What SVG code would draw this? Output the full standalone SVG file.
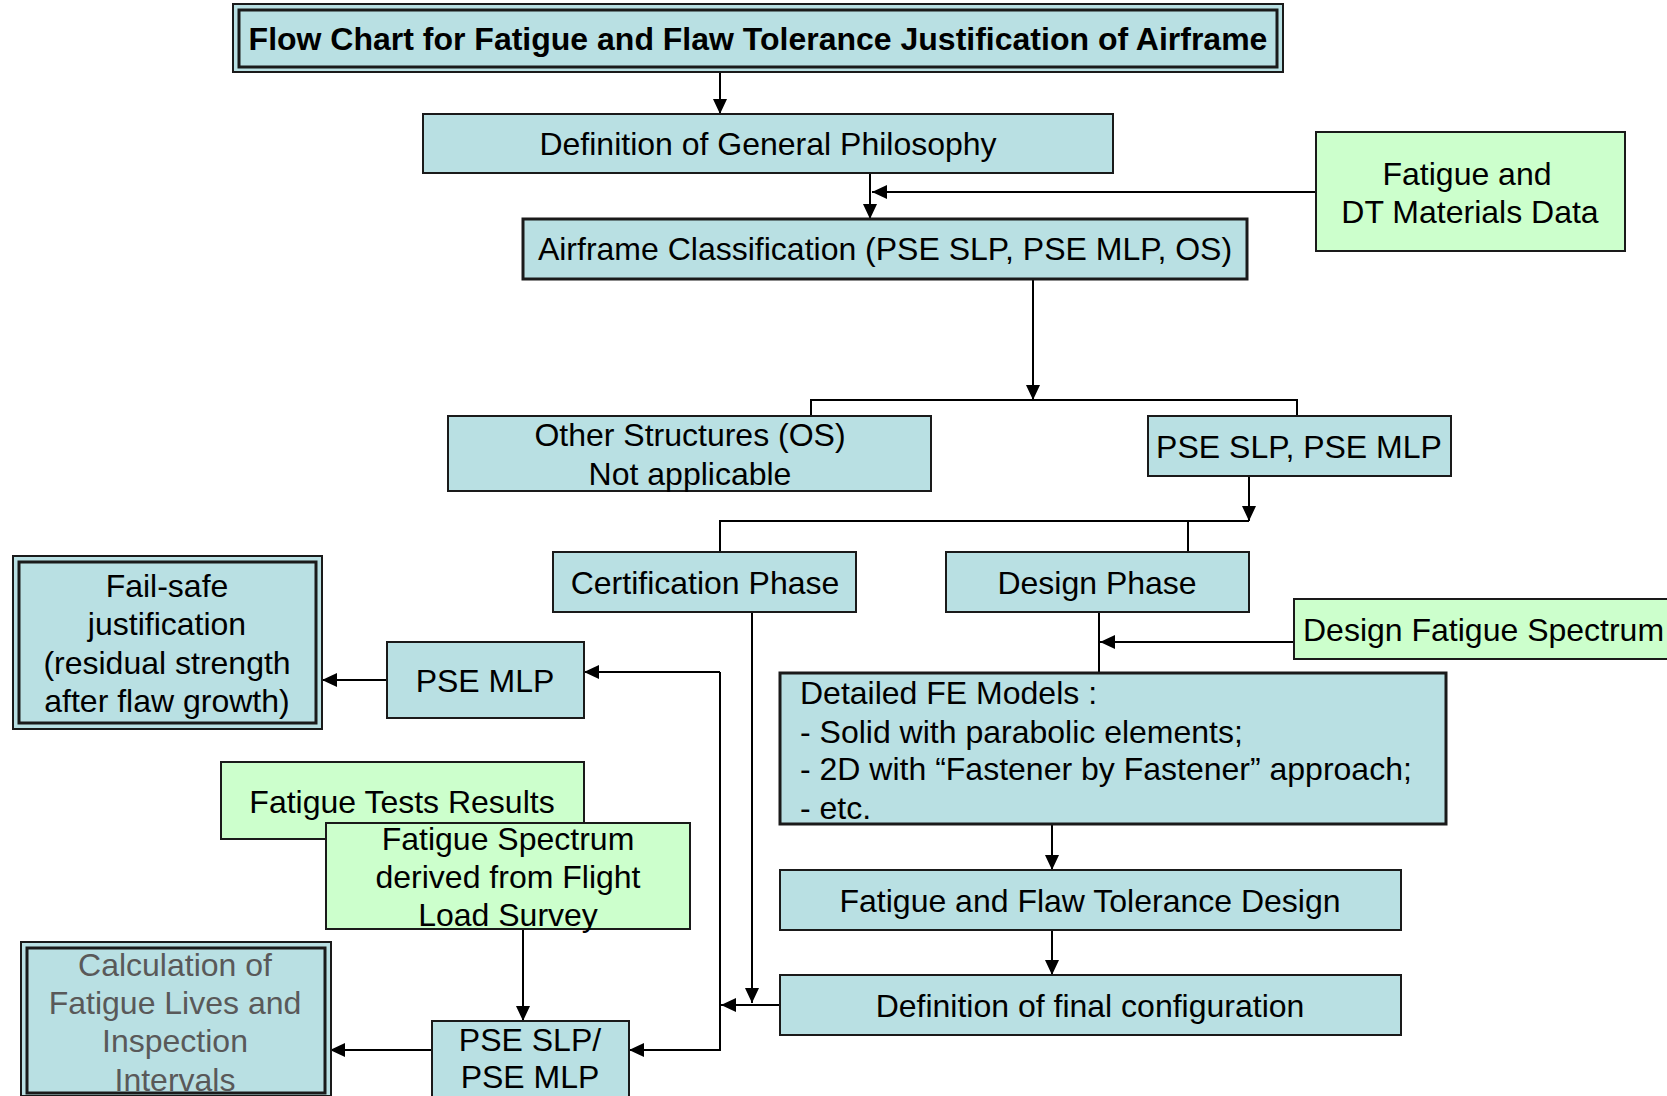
<svg xmlns="http://www.w3.org/2000/svg" width="1667" height="1096" viewBox="0 0 1667 1096">
  <style>
    .blue { fill: #B9E0E3; stroke: #1a1a1a; stroke-width: 2; }
    .green { fill: #CCFFCC; stroke: #1a1a1a; stroke-width: 2; }
    .thick { stroke-width: 3; }
    text { font-family: "Liberation Sans", Arial, sans-serif; font-size: 32px; fill: #000; text-anchor: middle; }
    .bold { font-weight: bold; }
    .left { text-anchor: start; }
    .grey { fill: #595959; }
    .wire { fill: none; stroke: #000; stroke-width: 2; }
    .arrow { fill: none; stroke: #000; stroke-width: 2; marker-end: url(#head); }
  </style>
  <defs>
    <marker id="head" viewBox="0 0 15 14" refX="15" refY="7" markerWidth="15" markerHeight="14" orient="auto" markerUnits="userSpaceOnUse">
      <path d="M0,0 L15,7 L0,14 Z" fill="#000"/>
    </marker>
  </defs>

  <rect width="1667" height="1096" fill="#fff"/>

  <!-- connectors -->
  <g id="connectors">
    <path class="arrow" d="M720,72 V114"/>
    <path class="arrow" d="M870,173 V219"/>
    <path class="arrow" d="M1316,192 H872"/>
    <path class="arrow" d="M1033,279 V400"/>
    <path class="wire" d="M811,416 V400 H1297 V416"/>
    <path class="arrow" d="M1249,476 V521"/>
    <path class="wire" d="M720,552 V521 H1249"/>
    <path class="wire" d="M1188,521 V552"/>
    <path class="wire" d="M1099,612 V673"/>
    <path class="arrow" d="M1294,642 H1100"/>
    <path class="arrow" d="M1052,824 V870"/>
    <path class="arrow" d="M1052,930 V975"/>
    <path class="arrow" d="M752,612 V1003"/>
    <path class="arrow" d="M780,1005 H721"/>
    <path class="wire" d="M720,672 V1051"/>
    <path class="arrow" d="M720,672 H584"/>
    <path class="arrow" d="M720,1050 H629"/>
    <path class="arrow" d="M387,680 H322"/>
    <path class="arrow" d="M432,1050 H330"/>
    <path class="arrow" d="M523,929 V1021"/>
  </g>

  <!-- title -->
  <g id="title">
    <rect class="blue" x="233" y="4" width="1050" height="68"/>
    <rect class="blue thick" x="239" y="10" width="1038" height="57"/>
    <text class="bold" x="758" y="50">Flow Chart for Fatigue and Flaw Tolerance Justification of Airframe</text>
  </g>

  <g id="general-philosophy">
    <rect class="blue" x="423" y="114" width="690" height="59"/>
    <text x="768" y="155">Definition of General Philosophy</text>
  </g>

  <g id="materials-data">
    <rect class="green" x="1316" y="132" width="309" height="119"/>
    <text x="1467" y="185">Fatigue and</text>
    <text x="1470" y="223">DT Materials Data</text>
  </g>

  <g id="airframe-classification">
    <rect class="blue thick" x="523" y="219" width="724" height="60"/>
    <text x="885" y="260">Airframe Classification (PSE SLP, PSE MLP, OS)</text>
  </g>

  <g id="other-structures">
    <rect class="blue" x="448" y="416" width="483" height="75"/>
    <text x="690" y="446">Other Structures (OS)</text>
    <text x="690" y="485">Not applicable</text>
  </g>

  <g id="pse-slp-mlp">
    <rect class="blue" x="1148" y="416" width="303" height="60"/>
    <text x="1299" y="458">PSE SLP, PSE MLP</text>
  </g>

  <g id="certification-phase">
    <rect class="blue" x="553" y="552" width="303" height="60"/>
    <text x="705" y="594">Certification Phase</text>
  </g>

  <g id="design-phase">
    <rect class="blue" x="946" y="552" width="303" height="60"/>
    <text x="1097" y="594">Design Phase</text>
  </g>

  <g id="design-fatigue-spectrum">
    <rect class="green" x="1294" y="599" width="380" height="60"/>
    <text class="left" x="1303" y="641">Design Fatigue Spectrum</text>
  </g>

  <g id="fail-safe">
    <rect class="blue" x="13" y="556" width="309" height="173"/>
    <rect class="blue thick" x="19" y="562" width="297" height="161"/>
    <text x="167" y="597">Fail-safe</text>
    <text x="167" y="635">justification</text>
    <text x="167" y="674">(residual strength</text>
    <text x="167" y="712">after flaw growth)</text>
  </g>

  <g id="pse-mlp">
    <rect class="blue" x="387" y="642" width="197" height="76"/>
    <text x="485" y="692">PSE MLP</text>
  </g>

  <g id="fe-models">
    <rect class="blue thick" x="780" y="673" width="666" height="151"/>
    <text class="left" x="800" y="704">Detailed FE Models :</text>
    <text class="left" x="800" y="743">- Solid with parabolic elements;</text>
    <text class="left" x="800" y="780">- 2D with “Fastener by Fastener” approach;</text>
    <text class="left" x="800" y="819">- etc.</text>
  </g>

  <g id="fatigue-tests">
    <rect class="green" x="221" y="762" width="363" height="77"/>
    <text x="402" y="813">Fatigue Tests Results</text>
  </g>

  <g id="flight-load-spectrum">
    <rect class="green" x="326" y="823" width="364" height="106"/>
    <text x="508" y="850">Fatigue Spectrum</text>
    <text x="508" y="888">derived from Flight</text>
    <text x="508" y="926">Load Survey</text>
  </g>

  <g id="flaw-tolerance-design">
    <rect class="blue" x="780" y="870" width="621" height="60"/>
    <text x="1090" y="912">Fatigue and Flaw Tolerance Design</text>
  </g>

  <g id="final-configuration">
    <rect class="blue" x="780" y="975" width="621" height="60"/>
    <text x="1090" y="1017">Definition of final configuration</text>
  </g>

  <g id="fatigue-lives">
    <rect class="blue" x="21" y="942" width="310" height="154"/>
    <rect class="blue thick" x="27" y="948" width="298" height="145"/>
    <text class="grey" x="175" y="976">Calculation of</text>
    <text class="grey" x="175" y="1014">Fatigue Lives and</text>
    <text class="grey" x="175" y="1052">Inspection</text>
    <text class="grey" x="175" y="1091">Intervals</text>
  </g>

  <g id="pse-slp-mlp-final">
    <rect class="blue" x="432" y="1021" width="197" height="90"/>
    <text x="530" y="1051">PSE SLP/</text>
    <text x="530" y="1088">PSE MLP</text>
  </g>
</svg>
